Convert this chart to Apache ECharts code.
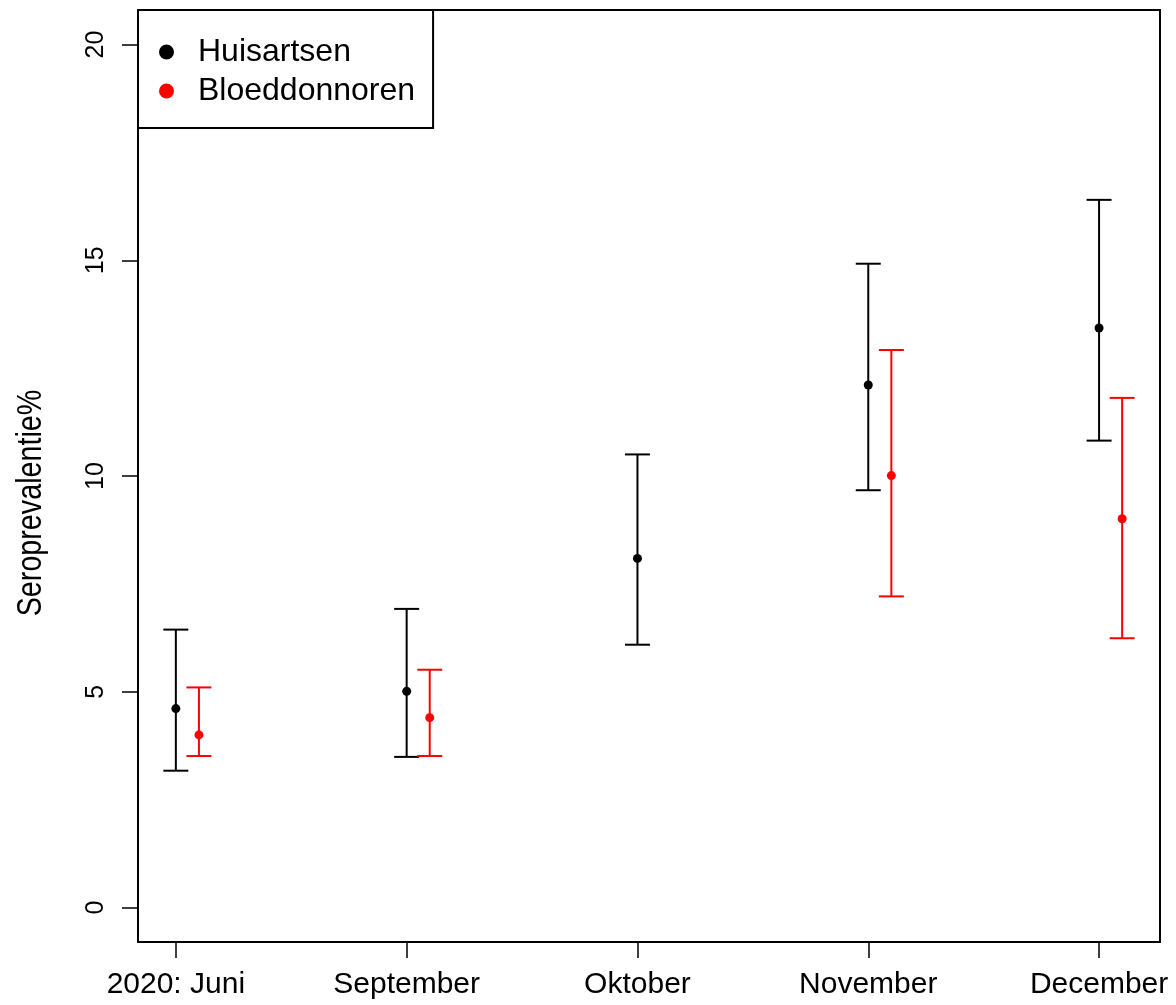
<!DOCTYPE html>
<html>
<head>
<meta charset="utf-8">
<script src="https://cdn.jsdelivr.net/npm/echarts@6/dist/echarts.min.js"></script>
<style>
html,body{margin:0;padding:0;background:#fff;}
#chart{width:1176px;height:1005px;}
</style>
</head>
<body>
<div id="chart"></div>
<script>
// ---- data ----
const categories = ['2020: Juni', 'September', 'Oktober', 'November', 'December'];
const huisartsenMid  = [4.61, 5.01, 8.09, 12.11, 13.43];
const huisartsenLow  = [3.17, 3.49, 6.09, 9.67, 10.82];
const huisartsenHigh = [6.44, 6.92, 10.50, 14.92, 16.40];
const bloedMid  = [4.00, 4.40, null, 10.01, 9.01];
const bloedLow  = [3.51, 3.51, null, 7.21, 6.24];
const bloedHigh = [5.10, 5.51, null, 12.92, 11.81];
const yTicks = [0, 5, 10, 15, 20];
const seriesNames = ['Huisartsen', 'Bloeddonnoren'];

// ---- build ----
const FONT = "'Liberation Sans', Arial, sans-serif";
const xTicks = categories.map((c, i) => i + 1);
const redOffset = 0.1;

function pts(mid, off) {
  const out = [];
  mid.forEach((v, i) => { if (v !== null) out.push([i + 1 + off, v]); });
  return out;
}
function bars(lo, hi, off) {
  const out = [];
  lo.forEach((v, i) => { if (v !== null) out.push([i + 1 + off, v, hi[i]]); });
  return out;
}
function errRender(color) {
  return function (params, api) {
    const x = api.value(0), lo = api.value(1), hi = api.value(2);
    const a = api.coord([x, lo]), b = api.coord([x, hi]);
    const w = 12.5;
    const st = { stroke: color, lineWidth: 2 };
    return {
      type: 'group',
      children: [
        { type: 'line', shape: { x1: a[0], y1: a[1], x2: b[0], y2: b[1] }, style: st },
        { type: 'line', shape: { x1: a[0] - w, y1: a[1], x2: a[0] + w, y2: a[1] }, style: st },
        { type: 'line', shape: { x1: b[0] - w, y1: b[1], x2: b[0] + w, y2: b[1] }, style: st }
      ]
    };
  };
}

const chart = echarts.init(document.getElementById('chart'));
chart.setOption({
  animation: false,
  backgroundColor: '#fff',
  textStyle: { fontFamily: FONT },
  grid: {
    left: 138, right: 16, top: 10, bottom: 63,
    show: true, borderColor: '#000', borderWidth: 2, backgroundColor: 'transparent'
  },
  legend: {
    left: 138, top: 10,
    orient: 'vertical',
    data: seriesNames,
    icon: 'circle',
    itemWidth: 15, itemHeight: 15,
    itemGap: 7,
    padding: [26, 18, 21, 21],
    borderColor: '#000', borderWidth: 2,
    backgroundColor: '#fff',
    selectedMode: false,
    itemStyle: { opacity: 1 },
    textStyle: { fontSize: 32, color: '#000', fontFamily: FONT, lineHeight: 32, padding: [0, 0, 0, 19] }
  },
  xAxis: {
    type: 'value',
    min: 0.836, max: 5.264,
    splitLine: { show: false },
    axisLine: { show: false, onZero: false },
    axisTick: { show: true, customValues: xTicks, length: 16, lineStyle: { color: '#000', width: 1.5 } },
    axisLabel: {
      customValues: xTicks,
      formatter: v => categories[Math.round(v) - 1] || '',
      fontSize: 30, color: '#000', margin: 28, fontFamily: FONT
    }
  },
  yAxis: {
    type: 'value',
    min: -0.8, max: 20.8,
    splitLine: { show: false },
    axisLine: { show: false, onZero: false },
    axisTick: { show: true, customValues: yTicks, length: 16, lineStyle: { color: '#000', width: 1.5 } },
    axisLabel: {
      customValues: yTicks,
      rotate: 90,
      fontSize: 25, color: '#000', margin: 29, fontFamily: FONT
    }
  },
  graphic: [{
    type: 'text',
    x: 31, y: 503,
    rotation: Math.PI / 2,
    scaleX: 0.82,
    style: {
      text: 'Seroprevalentie%',
      fontSize: 35,
      fontFamily: FONT,
      fill: '#000',
      align: 'center',
      verticalAlign: 'middle'
    }
  }],
  series: [
    {
      name: seriesNames[0], type: 'scatter', symbol: 'circle', symbolSize: 9,
      itemStyle: { color: '#000', opacity: 1 }, data: pts(huisartsenMid, 0), z: 3
    },
    {
      name: seriesNames[1], type: 'scatter', symbol: 'circle', symbolSize: 9,
      itemStyle: { color: '#ff0000', opacity: 1 }, data: pts(bloedMid, redOffset), z: 3
    },
    {
      name: seriesNames[0], type: 'custom', renderItem: errRender('#000'),
      itemStyle: { color: '#000' },
      encode: { x: 0, y: [1, 2] }, data: bars(huisartsenLow, huisartsenHigh, 0), z: 2
    },
    {
      name: seriesNames[1], type: 'custom', renderItem: errRender('#ff0000'),
      itemStyle: { color: '#ff0000' },
      encode: { x: 0, y: [1, 2] }, data: bars(bloedLow, bloedHigh, redOffset), z: 2
    }
  ]
});
</script>
</body>
</html>
